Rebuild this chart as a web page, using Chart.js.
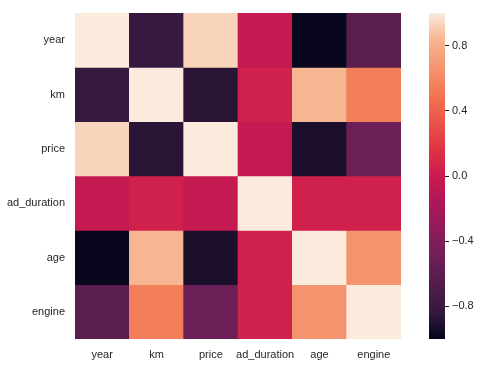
<!DOCTYPE html>
<html>
<head>
<meta charset="utf-8">
<script src="https://cdn.jsdelivr.net/npm/chart.js@4.4.1/dist/chart.umd.min.js"></script>
<style>
    body { margin: 0; background: #fff; }
    #wrap { position: relative; width: 484px; height: 366px; }
    #heat { position: absolute; left: 0; top: 0; }
    #cbar { position: absolute; left: 415px; top: 0; }
</style>
</head>
<body>
<div id="wrap">
    <canvas id="heat" width="415" height="366"></canvas>
    <canvas id="cbar" width="69" height="366"></canvas>
</div>
<script>
// variabel dan nilai korelasi
const labels = ['year', 'km', 'price', 'ad_duration', 'age', 'engine'];
const rowYear = [1, -0.83, 0.93, -0.04, -0.98, -0.62];
const rowKm = [-0.83, 1, -0.87, 0.04, 0.84, 0.55];
const rowPrice = [0.93, -0.87, 1, -0.04, -0.92, -0.52];
const rowAdDuration = [-0.04, 0.04, -0.04, 1, 0.04, 0.04];
const rowAge = [-0.98, 0.84, -0.92, 0.04, 1, 0.66];
const rowEngine = [-0.62, 0.55, -0.52, 0.04, 0.66, 1];
const rows = [rowYear, rowKm, rowPrice, rowAdDuration, rowAge, rowEngine];
const colorbarTicks = [-0.8, -0.4, 0, 0.4, 0.8];

// colormap rocket (seaborn), kira-kira
const rocket = [
    [0.0, [3, 5, 26]],
    [0.083, [53, 25, 62]],
    [0.25, [112, 31, 87]],
    [0.417, [173, 23, 89]],
    [0.5, [203, 27, 79]],
    [0.583, [225, 51, 66]],
    [0.75, [243, 118, 81]],
    [0.917, [246, 180, 143]],
    [1.0, [250, 235, 221]]
];

function warnaRocket(v) {
    let t = Math.max(0, Math.min(1, (v + 1) / 2));
    for (let i = 1; i < rocket.length; i++) {
        if (t <= rocket[i][0]) {
            let a = rocket[i - 1], b = rocket[i];
            let f = (t - a[0]) / (b[0] - a[0]);
            let c = a[1].map((x, k) => Math.round(x + (b[1][k] - x) * f));
            return `rgb(${c[0]},${c[1]},${c[2]})`;
        }
    }
    return 'rgb(250,235,221)';
}

const teks = '#262626';
const font = { family: 'Liberation Sans, Arial, sans-serif', size: 11 };

new Chart(document.getElementById('heat'), {
    type: 'bar',
    data: {
        labels: labels,
        datasets: rows.map((r, i) => ({
            label: labels[i],
            data: r.map(() => 1),
            backgroundColor: r.map(v => warnaRocket(v)),
            borderWidth: 0,
            barPercentage: 1,
            categoryPercentage: 1
        }))
    },
    options: {
        responsive: false,
        animation: false,
        layout: { padding: { top: 13, right: 14, left: 0, bottom: 0 } },
        plugins: { legend: { display: false }, tooltip: { enabled: false } },
        scales: {
            x: {
                stacked: true,
                grid: { display: false },
                border: { display: false },
                ticks: { color: teks, font: font, padding: 1, maxRotation: 0, autoSkip: false },
                afterFit: function (axis) { axis.height = 27; }
            },
            y: {
                stacked: true,
                reverse: true,
                min: 0,
                max: 6,
                grid: { display: false },
                border: { display: false },
                afterBuildTicks: function (axis) {
                    axis.ticks = labels.map((l, i) => ({ value: i + 0.5 }));
                },
                ticks: {
                    color: teks,
                    font: font,
                    padding: 2,
                    callback: function (value) {
                        return labels[Math.floor(value)];
                    }
                },
                afterFit: function (axis) { axis.width = 75; }
            }
        }
    }
});

new Chart(document.getElementById('cbar'), {
    type: 'bar',
    data: {
        labels: [''],
        datasets: [{
            data: [[-1, 1]],
            borderWidth: 0,
            barPercentage: 1,
            categoryPercentage: 1,
            backgroundColor: function (context) {
                let area = context.chart.chartArea;
                if (!area) return 'rgb(203,27,79)';
                let g = context.chart.ctx.createLinearGradient(0, area.bottom, 0, area.top);
                for (let i = 0; i <= 50; i++) {
                    g.addColorStop(i / 50, warnaRocket(-1 + 2 * i / 50));
                }
                return g;
            }
        }]
    },
    options: {
        responsive: false,
        animation: false,
        layout: { padding: { top: 13, bottom: 27, left: 14, right: 0 } },
        plugins: { legend: { display: false }, tooltip: { enabled: false } },
        scales: {
            x: { display: false },
            y: {
                position: 'right',
                min: -1,
                max: 1,
                border: { display: false },
                grid: { drawOnChartArea: false, drawTicks: true, tickLength: 4, tickColor: teks, tickWidth: 1 },
                afterBuildTicks: function (axis) {
                    axis.ticks = colorbarTicks.map(v => ({ value: v }));
                },
                ticks: {
                    color: teks,
                    font: font,
                    padding: 3,
                    callback: function (value) {
                        let s = Math.abs(value).toFixed(1);
                        return value < 0 ? '\u2212' + s : s;
                    }
                },
                afterFit: function (axis) { axis.width = 39; }
            }
        }
    }
});
</script>
</body>
</html>
